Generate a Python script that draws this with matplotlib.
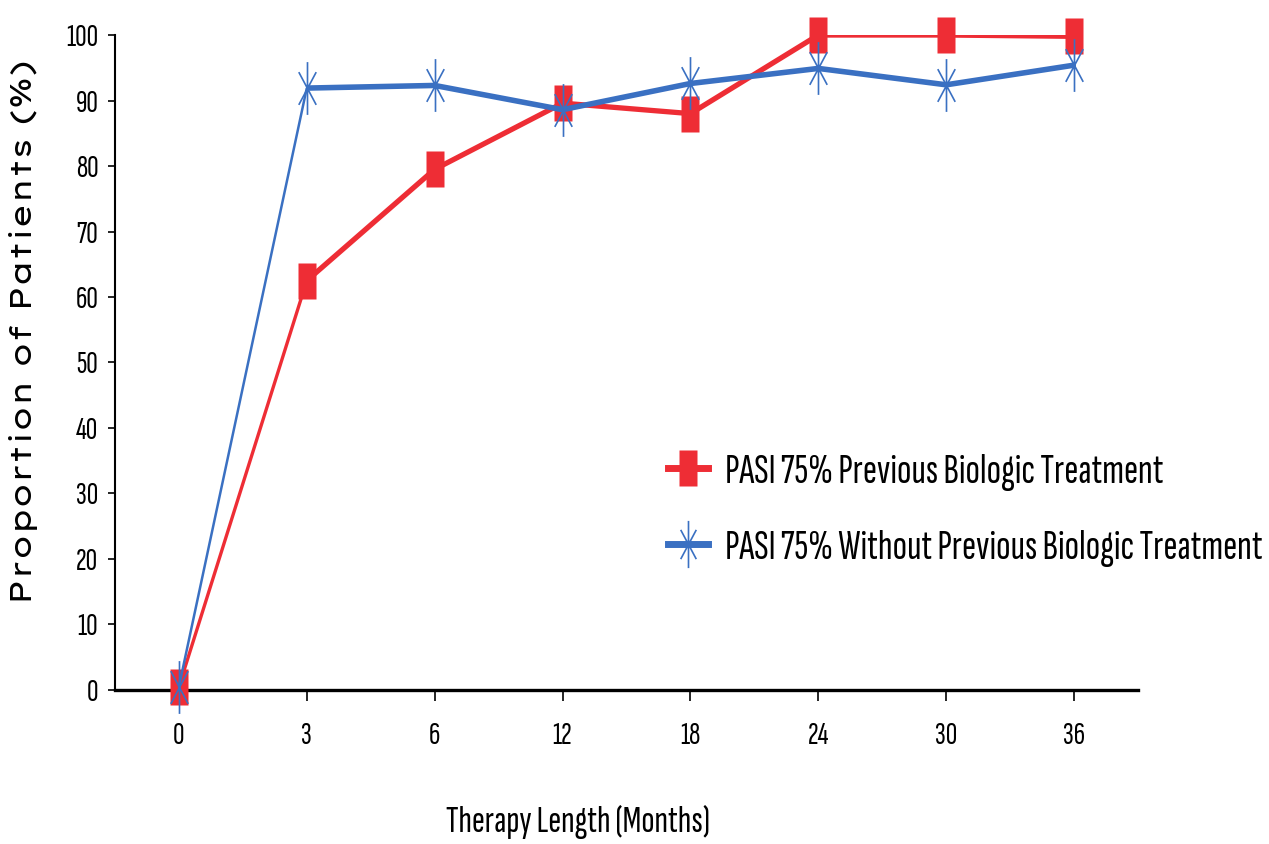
import matplotlib
matplotlib.use("Agg")
import matplotlib.pyplot as plt
from matplotlib.lines import Line2D
from matplotlib.path import Path

# data
months = ["0", "3", "6", "12", "18", "24", "30", "36"]
prev_biologic = [0.5, 62.5, 79.5, 89.6, 88.0, 100.0, 100.0, 99.8]
no_prev_biologic = [0.5, 91.9, 92.3, 88.6, 92.6, 94.9, 92.4, 95.4]

label_prev = "PASI 75% Previous Biologic Treatment"
label_noprev = "PASI 75% Without Previous Biologic Treatment"
xlabel = "Therapy Length (Months)"
ylabel = "Proportion of Patients (%)"
yticks = [0, 10, 20, 30, 40, 50, 60, 70, 80, 90, 100]

RED = "#EE2D35"
BLUE = "#3A70C2"
NARROW = "Sofia Sans Extra Condensed"
WIDE = ["Lexend Mega", "Lexend Giga", "Zalando Sans Expanded"]

# tall rectangle and stretched asterisk, as in the (vertically stretched) source
rect_marker = Path([(-0.5, -1), (0.5, -1), (0.5, 1), (-0.5, 1), (-0.5, -1)],
                   [Path.MOVETO, Path.LINETO, Path.LINETO, Path.LINETO, Path.CLOSEPOLY])
star_marker = Path([(0, -1), (0, 1), (-0.33, -0.62), (0.33, 0.62), (-0.33, 0.62), (0.33, -0.62)],
                   [Path.MOVETO, Path.LINETO, Path.MOVETO, Path.LINETO, Path.MOVETO, Path.LINETO])

fig = plt.figure(figsize=(12.69, 8.44), dpi=100)
ax = fig.add_axes([0.0906, 0.1825, 0.8062, 0.776])

x = list(range(len(months)))

# first segment is drawn thinner than the rest
ax.plot(x[:2], prev_biologic[:2], color=RED, lw=2.4, zorder=3, solid_capstyle="butt")
ax.plot(x[1:], prev_biologic[1:], color=RED, lw=3.8, zorder=3, solid_capstyle="butt")
ax.plot(x, prev_biologic, ls="none", marker=rect_marker, ms=26, color=RED,
        mec="none", zorder=4, clip_on=False)

ax.plot(x[:2], no_prev_biologic[:2], color=BLUE, lw=1.8, zorder=5, solid_capstyle="butt")
ax.plot(x[1:], no_prev_biologic[1:], color=BLUE, lw=4.0, zorder=5, solid_capstyle="butt")
ax.plot(x, no_prev_biologic, ls="none", marker=star_marker, ms=38, mfc="none",
        mec=BLUE, mew=1.2, zorder=6, clip_on=False)

ax.set_xlim(-0.5, 7.5)
ax.set_ylim(0, 100)
ax.set_xticks(x)
ax.set_xticklabels(months, fontfamily=NARROW, fontsize=23)
ax.set_yticks(yticks)
ax.set_yticklabels([str(v) for v in yticks], fontfamily=NARROW, fontsize=23)

for s in ("top", "right"):
    ax.spines[s].set_visible(False)
ax.spines["left"].set_linewidth(1.5)
ax.spines["bottom"].set_linewidth(2.4)
ax.tick_params(axis="y", direction="out", length=5, width=1.2, pad=7)
ax.tick_params(axis="x", direction="out", length=8, width=1.2, pad=15)

ax.set_xlabel(xlabel, fontfamily=NARROW, fontsize=28)
ax.xaxis.set_label_coords(0.4526, -0.176)
ax.set_ylabel(ylabel, fontfamily=WIDE, fontsize=21.8, fontweight="bold")
ax.yaxis.set_label_coords(-0.075, 0.547)

handles = [
    Line2D([], [], color=RED, lw=5, marker=rect_marker, ms=26, mec="none"),
    Line2D([], [], color=BLUE, lw=5, marker=star_marker, ms=34, mfc="none", mew=1.2),
]
fig.legend(handles, [label_prev, label_noprev], loc="upper left",
           bbox_to_anchor=(0.5264, 0.463), frameon=False, borderpad=0, borderaxespad=0,
           handlelength=0.94, handletextpad=0.4, labelspacing=0.9,
           prop={"family": NARROW, "size": 30.5})

fig.savefig("out.png", dpi=100)
